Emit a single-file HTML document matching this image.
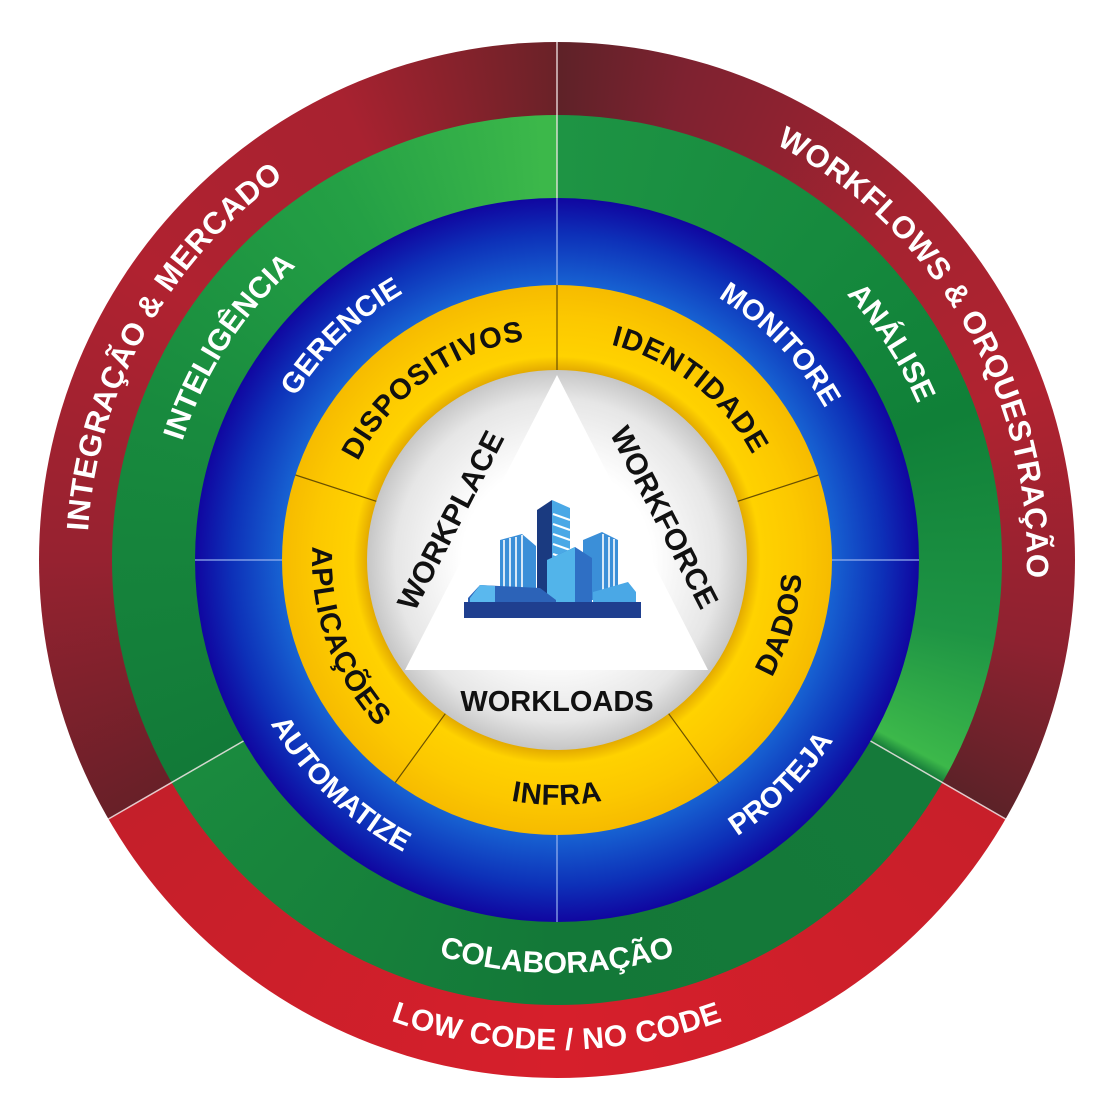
<!DOCTYPE html>
<html><head><meta charset="utf-8"><style>
html,body{margin:0;padding:0;background:#fff;}
#wrap{position:relative;width:1120px;height:1120px;overflow:hidden;}
.ring{position:absolute;border-radius:50%;}
#red{left:39px;top:42px;width:1036px;height:1036px;background:conic-gradient(from 0deg,#5e2228 0deg,#7e2230 15deg,#a52330 45deg,#b02330 70deg,#8e2230 100deg,#5c2228 120deg,#c81f2a 120deg,#d61f2b 180deg,#c41f2a 240deg,#682028 240deg,#962230 270deg,#b02230 305deg,#a82230 335deg,#6a2228 360deg);}
#green{left:112px;top:115px;width:890px;height:890px;background:conic-gradient(from 0deg,#1e9444 0deg,#168a3e 40deg,#108038 70deg,#1e9444 100deg,#3cb84a 118deg,#157a3a 120deg,#137838 180deg,#1a8a3e 240deg,#127a38 240deg,#188a3e 290deg,#24a045 330deg,#3cb84a 358deg,#3cb84a 360deg);}
svg{position:absolute;left:0;top:0;}
text{font-family:"Liberation Sans",sans-serif;font-weight:bold;}
</style></head><body><div id="wrap">
<div id="red" class="ring"></div>
<div id="green" class="ring"></div>
<svg width="1120" height="1120" viewBox="0 0 1120 1120">
<defs>
<radialGradient id="gb" cx="557" cy="560" r="362" gradientUnits="userSpaceOnUse">
<stop offset="0.76" stop-color="#1762d2"/><stop offset="0.9" stop-color="#0d30b8"/><stop offset="1" stop-color="#1006a0"/></radialGradient>
<radialGradient id="gy" cx="557" cy="560" r="275" gradientUnits="userSpaceOnUse">
<stop offset="0.69" stop-color="#e3aa00"/><stop offset="0.74" stop-color="#ffd200"/><stop offset="0.88" stop-color="#fcc800"/><stop offset="1" stop-color="#f6bb00"/></radialGradient>
<radialGradient id="gg" cx="557" cy="560" r="190" gradientUnits="userSpaceOnUse">
<stop offset="0.5" stop-color="#ffffff"/><stop offset="0.85" stop-color="#e6e6e6"/><stop offset="1" stop-color="#c6c6c6"/></radialGradient>
<path id="t470" d="M87 560 A470 470 0 0 1 1027 560"/>
<path id="b490" d="M67 560 A490 490 0 0 0 1047 560"/>
<path id="t393" d="M164 560 A393 393 0 0 1 950 560"/>
<path id="b413" d="M144 560 A413 413 0 0 0 970 560"/>
<path id="t308" d="M249 560 A308 308 0 0 1 865 560"/>
<path id="b330" d="M227 560 A330 330 0 0 0 887 560"/>
<path id="t222" d="M335 560 A222 222 0 0 1 779 560"/>
<path id="b245" d="M312 560 A245 245 0 0 0 802 560"/>
</defs>
<circle cx="557" cy="560" r="362" fill="url(#gb)"/>
<circle cx="557" cy="560" r="275" fill="url(#gy)"/>
<circle cx="557" cy="560" r="190" fill="url(#gg)"/>
<g stroke="#f4e8e8" stroke-width="1.5" opacity="0.85">
<line x1="557" y1="198" x2="557" y2="42"/>
<line x1="870.5" y1="741" x2="1005.6" y2="819"/>
<line x1="243.5" y1="741" x2="108.4" y2="819"/>
</g>
<g stroke="#9ab4f0" stroke-width="1.5" opacity="0.8">
<line x1="557" y1="198" x2="557" y2="285"/>
<line x1="557" y1="835" x2="557" y2="922"/>
<line x1="195" y1="560" x2="282" y2="560"/>
<line x1="832" y1="560" x2="919" y2="560"/>
</g>
<g stroke="#6a5000" stroke-width="1.2">
<line x1="557" y1="370" x2="557" y2="285"/>
<line x1="737.7" y1="501.3" x2="818.5" y2="475"/>
<line x1="668.7" y1="713.7" x2="718.7" y2="782.5"/>
<line x1="445.3" y1="713.7" x2="395.3" y2="782.5"/>
<line x1="376.3" y1="501.3" x2="295.5" y2="475"/>
</g>
<polygon points="557,375 405,670 708,670" fill="#fff"/>
<g>
<polygon points="537,510 552,500 552,600 537,600" fill="#1a3a80"/>
<polygon points="552,500 570,508 570,590 552,590" fill="#4aa8e6"/>
<g stroke="#fff" stroke-width="2"><line x1="553" y1="514" x2="570" y2="520"/><line x1="553" y1="524" x2="570" y2="530"/><line x1="553" y1="534" x2="570" y2="540"/><line x1="553" y1="544" x2="570" y2="550"/><line x1="553" y1="554" x2="570" y2="560"/></g>
<polygon points="500,540 522,534 536,546 536,600 500,600" fill="#3b8fd8"/>
<g stroke="#fff" stroke-width="1.6"><line x1="504" y1="540" x2="504" y2="598"/><line x1="510" y1="538" x2="510" y2="598"/><line x1="516" y1="537" x2="516" y2="598"/><line x1="522" y1="535" x2="522" y2="598"/></g>
<polygon points="583,540 602,532 618,540 618,600 583,600" fill="#3b8fd8"/>
<g stroke="#fff" stroke-width="1.6"><line x1="603" y1="534" x2="603" y2="598"/><line x1="609" y1="537" x2="609" y2="598"/><line x1="614" y1="539" x2="614" y2="598"/></g>
<polygon points="547,560 575,547 592,558 592,605 547,605" fill="#2f6fc4"/>
<polygon points="547,560 575,547 575,605 547,605" fill="#52b4ea"/>
<polygon points="468,598 480,585 540,588 556,600 556,605 468,605" fill="#2c63b8"/>
<polygon points="470,598 480,585 495,586 495,605 470,605" fill="#5ab8ee"/>
<polygon points="593,592 628,582 636,592 636,605 593,605" fill="#4aa8e6"/>
<rect x="464" y="602" width="177" height="16" fill="#1f3f8f"/>
</g>
<g fill="#fff" font-size="31" letter-spacing="0.5">
<text transform="rotate(-61 557 560)"><textPath href="#t470" startOffset="50%" text-anchor="middle">INTEGRAÇÃO &amp; MERCADO</textPath></text>
<text transform="rotate(60 557 560)"><textPath href="#t470" startOffset="50%" text-anchor="middle">WORKFLOWS &amp; ORQUESTRAÇÃO</textPath></text>
<text font-size="30"><textPath href="#b490" startOffset="50%" text-anchor="middle">LOW CODE / NO CODE</textPath></text>
</g>
<g fill="#fff" font-size="30">
<text transform="rotate(-57 557 560)"><textPath href="#t393" startOffset="50%" text-anchor="middle">INTELIGÊNCIA</textPath></text>
<text transform="rotate(57 557 560)"><textPath href="#t393" startOffset="50%" text-anchor="middle">ANÁLISE</textPath></text>
<text><textPath href="#b413" startOffset="50%" text-anchor="middle">COLABORAÇÃO</textPath></text>
</g>
<g fill="#fff" font-size="29">
<text transform="rotate(-44 557 560)"><textPath href="#t308" startOffset="50%" text-anchor="middle">GERENCIE</textPath></text>
<text transform="rotate(46 557 560)"><textPath href="#t308" startOffset="50%" text-anchor="middle">MONITORE</textPath></text>
<text transform="rotate(44 557 560)"><textPath href="#b330" startOffset="50%" text-anchor="middle">AUTOMATIZE</textPath></text>
<text transform="rotate(-45 557 560)"><textPath href="#b330" startOffset="50%" text-anchor="middle">PROTEJA</textPath></text>
</g>
<g fill="#111" font-size="29" letter-spacing="0.8">
<text transform="rotate(-36 557 560)"><textPath href="#t222" startOffset="50%" text-anchor="middle">DISPOSITIVOS</textPath></text>
<text transform="rotate(38 557 560)"><textPath href="#t222" startOffset="50%" text-anchor="middle">IDENTIDADE</textPath></text>
<text transform="rotate(-74 557 560)"><textPath href="#b245" startOffset="50%" text-anchor="middle">DADOS</textPath></text>
<text><textPath href="#b245" startOffset="50%" text-anchor="middle">INFRA</textPath></text>
<text transform="rotate(70 557 560)"><textPath href="#b245" startOffset="50%" text-anchor="middle">APLICAÇÕES</textPath></text>
</g>
<g fill="#111" font-size="30">
<text transform="translate(450 520) rotate(-62.7)" text-anchor="middle" y="11">WORKPLACE</text>
<text transform="translate(665 517) rotate(62.7)" text-anchor="middle" y="11">WORKFORCE</text>
<text x="557" y="711" text-anchor="middle" font-size="29">WORKLOADS</text>
</g>
</svg>
</div></body></html>
